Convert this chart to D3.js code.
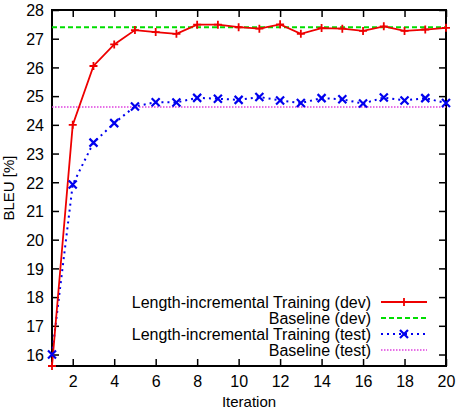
<!DOCTYPE html>
<html>
<head>
<meta charset="utf-8">
<script src="https://cdn.jsdelivr.net/npm/d3@7"></script>
<style>
  body { margin: 0; background: #fff; }
  svg { font-family: "Liberation Sans", Arial, sans-serif; }
</style>
</head>
<body>
<svg id="chart"></svg>
<script>
const iterations = d3.range(1, 21);
const devScores = [15.6, 24.0, 26.05, 26.8, 27.3, 27.23, 27.17, 27.49, 27.49, 27.4,
  27.35, 27.5, 27.17, 27.37, 27.35, 27.27, 27.43, 27.27, 27.32, 27.38];
const testScores = [16.0, 21.92, 23.38, 24.06, 24.64, 24.79, 24.78, 24.94, 24.91, 24.87,
  24.97, 24.85, 24.76, 24.93, 24.89, 24.74, 24.95, 24.85, 24.93, 24.76];
const baselineDev = 27.4;
const baselineTest = 24.62;
const xTicks = [2, 4, 6, 8, 10, 12, 14, 16, 18, 20];
const yTicks = [16, 17, 18, 19, 20, 21, 22, 23, 24, 25, 26, 27, 28];
const legendLabels = [
  "Length-incremental Training (dev)",
  "Baseline (dev)",
  "Length-incremental Training (test)",
  "Baseline (test)",
];

const W = 463, H = 412;
const margin = { top: 10, right: 17, bottom: 46, left: 52 };
const width = W - margin.left - margin.right;
const height = H - margin.top - margin.bottom;

const svg = d3.select("#chart").attr("width", W).attr("height", H);
const g = svg.append("g").attr("transform", `translate(${margin.left},${margin.top})`);

const x = d3.scaleLinear().domain([1, 20]).range([0, width]);
const y = d3.scaleLinear().domain([15.6, 28]).range([height, 0]);

// clip for data
svg.append("defs").append("clipPath").attr("id", "clip")
  .append("rect").attr("x", -6).attr("y", -2).attr("width", width + 12).attr("height", height + 8);

// axes: ticks inside on all four sides (gnuplot style)
const fontSize = 16;
g.append("g").attr("transform", `translate(0,${height})`)
  .call(d3.axisBottom(x).tickValues(xTicks).tickSizeInner(-7).tickSizeOuter(0).tickPadding(10));
const left = g.append("g")
  .call(d3.axisLeft(y).tickValues(yTicks).tickSizeInner(-7).tickSizeOuter(0).tickPadding(8));
g.append("g")
  .call(d3.axisTop(x).tickValues(xTicks).tickSizeInner(-7).tickSizeOuter(0).tickFormat(""));
g.append("g").attr("transform", `translate(${width},0)`)
  .call(d3.axisRight(y).tickValues(yTicks).tickSizeInner(-7).tickSizeOuter(0).tickFormat(""));

g.selectAll(".domain").remove();
g.selectAll(".tick line").attr("stroke", "#000").attr("stroke-width", 1.5);
g.selectAll(".tick text").attr("fill", "#000").style("font-size", fontSize + "px");
left.selectAll(".tick text").attr("dy", "0.36em");

// frame
g.append("rect").attr("width", width).attr("height", height)
  .attr("fill", "none").attr("stroke", "#000").attr("stroke-width", 2);

// axis titles
svg.append("text")
  .attr("x", margin.left + width / 2).attr("y", H - 5)
  .attr("text-anchor", "middle").style("font-size", "15px").text("Iteration");
svg.append("text")
  .attr("transform", `translate(14,${margin.top + height / 2}) rotate(-90)`)
  .attr("text-anchor", "middle").style("font-size", "15px").text("BLEU [%]");

const plot = g.append("g").attr("clip-path", "url(#clip)");

const line = d3.line().x((d, i) => x(iterations[i])).y((d) => y(d));

// baselines
plot.append("line")
  .attr("x1", 0).attr("x2", width)
  .attr("y1", y(baselineDev)).attr("y2", y(baselineDev))
  .attr("stroke", "#00dd00").attr("stroke-width", 2).attr("stroke-dasharray", "5,3");
plot.append("line")
  .attr("x1", 0).attr("x2", width)
  .attr("y1", y(baselineTest)).attr("y2", y(baselineTest))
  .attr("stroke", "#e040e0").attr("stroke-width", 1.5).attr("stroke-dasharray", "1.5,1.5");

// series lines
plot.append("path").datum(testScores)
  .attr("d", line).attr("fill", "none")
  .attr("stroke", "#0000ee").attr("stroke-width", 2).attr("stroke-dasharray", "2,4");
plot.append("path").datum(devScores)
  .attr("d", line).attr("fill", "none")
  .attr("stroke", "#ee0000").attr("stroke-width", 1.8);

function plus(sel, s) {
  sel.append("path").attr("d", `M${-s},0H${s}M0,${-s}V${s}`)
    .attr("stroke", "#ee0000").attr("stroke-width", 1.8).attr("fill", "none");
}
function cross(sel, s) {
  sel.append("path").attr("d", `M${-s},${-s}L${s},${s}M${-s},${s}L${s},${-s}`)
    .attr("stroke", "#0000ee").attr("stroke-width", 2.2).attr("fill", "none");
}

plot.selectAll(".dev-pt").data(devScores).enter().append("g")
  .attr("transform", (d, i) => `translate(${x(iterations[i])},${y(d)})`)
  .each(function () { plus(d3.select(this), 4); });
plot.selectAll(".test-pt").data(testScores).enter().append("g")
  .attr("transform", (d, i) => `translate(${x(iterations[i])},${y(d)})`)
  .each(function () { cross(d3.select(this), 4); });

// legend
const legend = svg.append("g");
const lx = 371, ly = 302, step = 16, s0 = 381, s1 = 427;
legendLabels.forEach((label, i) => {
  const yy = ly + i * step;
  legend.append("text").attr("x", lx).attr("y", yy).attr("dy", "0.35em")
    .attr("text-anchor", "end").style("font-size", "16px").text(label);
  const ln = legend.append("line").attr("x1", s0).attr("x2", s1).attr("y1", yy).attr("y2", yy);
  if (i === 0) ln.attr("stroke", "#ee0000").attr("stroke-width", 1.8);
  if (i === 1) ln.attr("stroke", "#00dd00").attr("stroke-width", 2).attr("stroke-dasharray", "5,3");
  if (i === 2) ln.attr("stroke", "#0000ee").attr("stroke-width", 2).attr("stroke-dasharray", "2,4");
  if (i === 3) ln.attr("stroke", "#e040e0").attr("stroke-width", 1.5).attr("stroke-dasharray", "1.5,1.5");
  const m = legend.append("g").attr("transform", `translate(${(s0 + s1) / 2},${yy})`);
  if (i === 0) plus(m, 4);
  if (i === 2) cross(m, 4);
});
</script>
</body>
</html>
